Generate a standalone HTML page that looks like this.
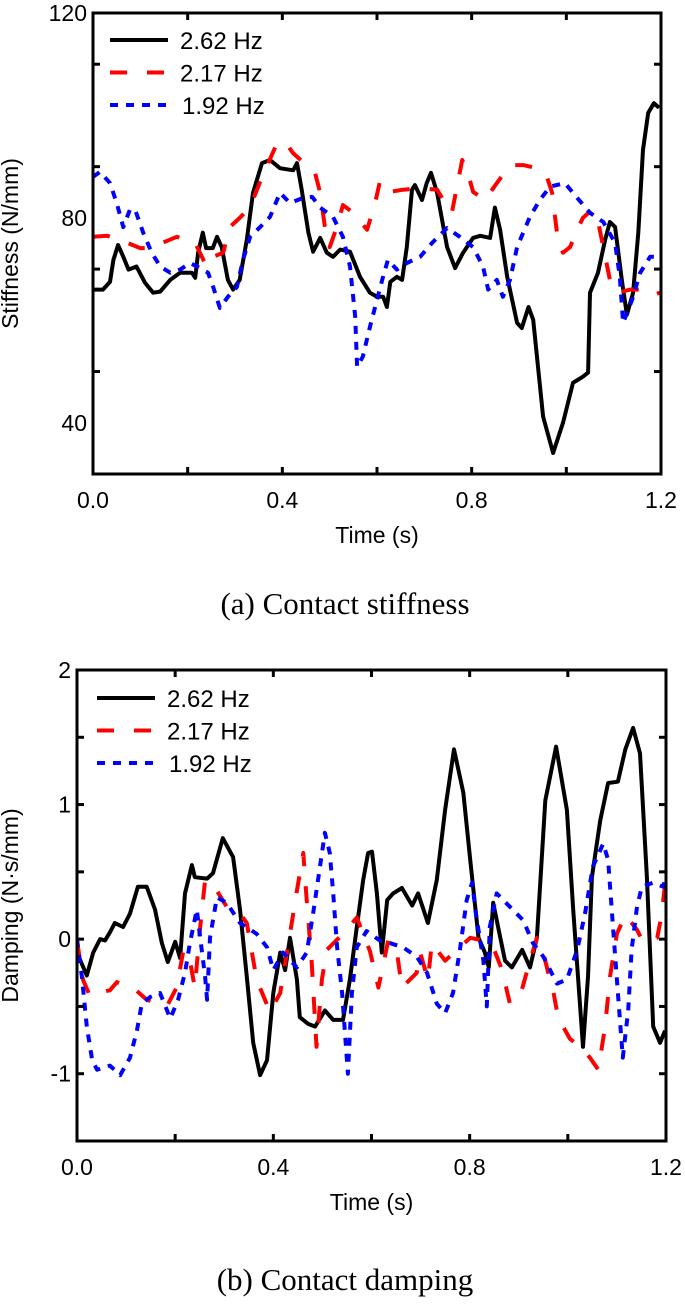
<!DOCTYPE html>
<html><head><meta charset="utf-8"><style>
body{margin:0;background:#fff;}
svg{display:block;}
text{font-family:"Liberation Sans",Arial,sans-serif;fill:#000;}
.cap{font-family:"Liberation Serif","Times New Roman",serif;}
</style></head><body>
<svg id="fig" width="685" height="1308" viewBox="0 0 685 1308">
<g id="chartA"></g>
<g id="chartB"></g>
</svg>
<script>
// ---- Chart (a) data ----
const xTicks = [0.0, 0.4, 0.8, 1.2];
const xTickLabels = ["0.0", "0.4", "0.8", "1.2"];
const seriesNames = ["2.62 Hz", "2.17 Hz", "1.92 Hz"];
const stiffYTicks = [40, 80, 120];
const stiffYTickLabels = ["40", "80", "120"];
const stiff262T = [0,.021,.036,.043,.053,.064,.075,.092,.11,.127,.142,.163,.184,.209,.216,.222,.232,.239,.253,.262,.272,.285,.296,.31,.325,.338,.357,.374,.395,.423,.431,.441,.455,.465,.48,.494,.507,.522,.543,.564,.585,.6,.613,.621,.628,.642,.653,.663,.674,.68,.695,.705,.714,.727,.748,.765,.782,.803,.818,.839,.849,.86,.875,.896,.906,.92,.93,.951,.972,.993,1.014,1.035,1.046,1.05,1.067,1.082,1.092,1.103,1.118,1.128,1.141,1.152,1.162,1.173,1.185,1.196];
const stiff262V = [66,66,67.5,71.8,74.7,72.4,69.9,70.5,67.3,65.4,65.6,67.9,69.3,69.3,68.3,73.2,77.1,74.1,74.1,76.3,74.3,67.9,66,67.9,75.7,84.9,90.7,91.3,89.7,89.3,90.7,85.5,77.1,73.4,76.1,73.2,72.4,73.8,73.4,68.5,65.4,64.6,64.6,62.6,67.5,68.5,67.9,74.3,85.5,86.4,83.5,86.8,88.8,84.9,74.3,70.2,73.2,76.1,76.5,76.1,82,77.7,68.5,59.5,58.5,62.6,60.1,41.2,34.1,40,47.8,49,49.8,65.4,69.3,75.7,79.2,78.2,67.3,61.1,65.4,77.1,93.3,100.5,102.4,101.5];
const stiff217T = [0,.03,.057,.1,.12,.177,.216,.24,.254,.275,.289,.31,.332,.357,.389,.406,.423,.469,.48,.49,.5,.515,.528,.547,.579,.596,.606,.617,.628,.655,.691,.727,.74,.758,.769,.78,.79,.803,.828,.853,.881,.909,.938,.959,.97,.976,.983,.993,1.008,1.023,1.035,1.054,1.065,1.078,1.092,1.109,1.135,1.171,1.187,1.2];
const stiff217V = [76.3,76.5,75.7,74.1,74.1,76.3,75.1,70.5,72.4,73.2,78.2,80,82.1,88,94.6,94.8,92.6,88.8,84.9,78.2,74.3,78.2,82.5,81.2,77.7,82.9,87,87,85.1,85.5,85.8,85.5,83.5,81,86.1,91.3,89.4,85.1,83.5,86.8,90.3,90.3,89.7,88,84.9,80.2,75.1,73.2,74.3,77.7,80,81.6,80.2,74.3,67.9,65.4,66,66,65,65.5];
const stiff192T = [0,.015,.036,.05,.064,.078,.089,.106,.124,.142,.163,.184,.205,.226,.243,.254,.268,.285,.304,.317,.332,.353,.374,.395,.416,.444,.463,.48,.507,.528,.543,.554,.558,.57,.585,.6,.611,.623,.642,.663,.691,.718,.748,.775,.803,.824,.835,.853,.866,.881,.896,.923,.944,.966,.997,1.023,1.05,1.078,1.103,1.113,1.12,1.139,1.156,1.177,1.2];
const stiff192V = [88,89,86.8,82.9,78.2,81.6,81.6,77.1,73.2,70.5,69.3,69.9,71.2,70.2,69.3,66.5,62.4,64.6,66.5,71.8,76.3,78.2,80.2,84.9,82.9,83.9,84.1,82,80.2,76.3,70.5,60.7,50.9,52.9,58.7,64,67.9,71.8,69.9,71.2,72.4,75.3,78,76.3,74.3,70.5,66,67.9,64.6,67.9,74.3,80.2,83.5,86.1,86.8,83.9,81,79.2,75.1,68.5,59.5,64,69.3,72.4,72.4];

// ---- Chart (b) data ----
const dampYTicks = [-1, 0, 1, 2];
const dampYTickLabels = ["-1", "0", "1", "2"];
const damp262T = [0,.02,.033,.047,.057,.067,.077,.094,.108,.124,.142,.159,.173,.185,.2,.21,.22,.234,.24,.265,.277,.297,.318,.332,.346,.359,.373,.387,.4,.414,.424,.434,.448,.454,.471,.485,.505,.522,.542,.556,.57,.583,.593,.601,.611,.621,.632,.644,.662,.683,.695,.715,.733,.75,.768,.787,.801,.818,.831,.839,.848,.858,.872,.886,.907,.923,.937,.954,.976,.998,1.011,1.031,1.041,1.049,1.066,1.082,1.102,1.117,1.133,1.147,1.161,1.174,1.188,1.198];
const damp262V = [-.1,-.27,-.1,0,-.01,.05,.12,.09,.19,.39,.39,.22,-.03,-.17,-.02,-.14,.34,.55,.46,.45,.49,.75,.61,.22,-.28,-.77,-1.01,-.9,-.4,-.1,-.23,.01,-.3,-.58,-.63,-.65,-.53,-.6,-.6,-.3,.09,.44,.64,.65,.34,-.1,.29,.34,.38,.25,.34,.12,.44,.96,1.41,1.09,.59,.01,-.1,-.21,.27,.09,-.16,-.21,-.08,-.21,.01,1.03,1.43,.96,.22,-.8,-.28,.46,.88,1.16,1.17,1.41,1.57,1.38,.46,-.65,-.77,-.68];
const damp217T = [0,.012,.026,.04,.067,.081,.114,.142,.183,.203,.217,.23,.24,.251,.261,.285,.305,.332,.346,.366,.393,.414,.434,.448,.461,.468,.478,.488,.499,.509,.542,.57,.597,.614,.634,.652,.662,.692,.699,.715,.723,.75,.801,.828,.848,.866,.882,.906,.923,.937,.95,.96,.97,.98,1.004,1.025,1.045,1.062,1.076,1.086,1.1,1.117,1.141,1.153,1.182,1.19,1.2];
const damp217V = [-.01,-.3,-.42,-.4,-.38,-.32,-.36,-.45,-.5,-.36,-.08,-.16,-.36,.09,.44,.36,.24,.19,.12,-.3,-.54,-.4,.04,.36,.64,.29,-.16,-.8,-.3,-.08,.04,.16,-.09,-.36,-.01,-.1,-.36,-.25,-.1,-.3,-.03,-.16,.01,-.01,-.06,-.23,-.48,-.38,-.16,.01,-.1,-.25,-.38,-.58,-.74,-.8,-.88,-.97,-.65,-.28,.04,.18,.07,-.02,.01,.16,.46];
const damp192T = [0,.01,.02,.031,.041,.067,.088,.108,.122,.132,.149,.169,.19,.206,.22,.23,.244,.251,.261,.265,.271,.285,.305,.332,.366,.387,.4,.42,.448,.468,.481,.495,.505,.515,.522,.53,.54,.552,.56,.57,.59,.617,.638,.664,.692,.713,.733,.75,.766,.78,.794,.805,.814,.828,.835,.841,.855,.882,.909,.929,.95,.978,.998,1.019,1.035,1.051,1.072,1.082,1.092,1.102,1.112,1.123,1.13,1.141,1.151,1.174,1.194,1.2];
const damp192V = [0,-.28,-.65,-.9,-.97,-.94,-1.01,-.88,-.68,-.48,-.43,-.4,-.59,-.45,-.25,-.03,.22,.01,-.28,-.45,.01,.31,.27,.12,.04,-.06,-.23,-.1,-.21,-.1,.19,.54,.79,.64,.34,-.06,-.4,-1.0,-.4,-.06,.06,-.01,-.03,-.06,-.13,-.25,-.48,-.55,-.4,-.08,.29,.42,.16,-.16,-.5,.09,.34,.24,.14,-.03,-.13,-.33,-.3,-.08,.19,.54,.71,.59,.09,-.4,-.88,-.53,-.08,.24,.39,.42,.39,.46];

const NS = "http://www.w3.org/2000/svg";
function mk(parent, tag, attrs){
  const e = document.createElementNS(NS, tag);
  for (const k in attrs) e.setAttribute(k, attrs[k]);
  parent.appendChild(e);
  return e;
}
const styles = [
  {stroke:"#000", dash:"", w:4},
  {stroke:"#ff0000", dash:"17 20", w:4},
  {stroke:"#0000ff", dash:"8 8", w:4}
];

function drawChart(g, cfg){
  const sx = t => cfg.x0 + (t - 0) / 1.2 * (cfg.x1 - cfg.x0);
  const sy = v => cfg.y1 - (v - cfg.ymin) / (cfg.ymax - cfg.ymin) * (cfg.y1 - cfg.y0);
  const cid = cfg.id + "-clip";
  const defs = mk(g, "defs", {});
  const cp = mk(defs, "clipPath", {id: cid});
  mk(cp, "rect", {x: cfg.x0, y: cfg.y0, width: cfg.x1 - cfg.x0, height: cfg.y1 - cfg.y0});
  const sg = mk(g, "g", {"clip-path": "url(#" + cid + ")"});
  cfg.series.forEach((s, i) => {
    const pts = s.t.map((t, j) => sx(t).toFixed(1) + "," + sy(s.v[j]).toFixed(1)).join(" ");
    const pl = mk(sg, "polyline", {points: pts, fill: "none", stroke: styles[i].stroke, "stroke-width": styles[i].w, "stroke-linejoin": "round", "stroke-dasharray": styles[i].dash});
    
    
  });
  const fr = mk(g, "rect", {x: cfg.x0, y: cfg.y0, width: cfg.x1 - cfg.x0, height: cfg.y1 - cfg.y0, fill: "none", stroke: "#000", "stroke-width": 3});
  
  
  for (let t = 0; t <= 1.2001; t += 0.2) {
    const X = sx(t);
    mk(g, "line", {x1: X, y1: cfg.y1, x2: X, y2: cfg.y1 - 7, stroke: "#000", "stroke-width": 3});
    mk(g, "line", {x1: X, y1: cfg.y0, x2: X, y2: cfg.y0 + 7, stroke: "#000", "stroke-width": 3});
  }
  xTicks.forEach((t, i) => {
    const tx = mk(g, "text", {x: sx(t), y: cfg.y1 + 34, "text-anchor": "middle", "font-size": 23});
    tx.textContent = xTickLabels[i];
    
    
  });
  for (let v = cfg.ymin; v <= cfg.ymax + 1e-9; v += cfg.minorStep) {
    const Y = sy(v);
    mk(g, "line", {x1: cfg.x0, y1: Y, x2: cfg.x0 + 7, y2: Y, stroke: "#000", "stroke-width": 3});
    mk(g, "line", {x1: cfg.x1, y1: Y, x2: cfg.x1 - 7, y2: Y, stroke: "#000", "stroke-width": 3});
  }
  cfg.yTicks.forEach((v, i) => {
    const ty = mk(g, "text", {x: cfg.x0 - 6, y: sy(v) + 8, "text-anchor": "end", "font-size": 23});
    ty.textContent = cfg.yLabels[i];
    
    
  });
  const xt = mk(g, "text", {x: (cfg.x0 + cfg.x1) / 2, y: cfg.y1 + 69, "text-anchor": "middle", "font-size": 23});
  xt.textContent = "Time (s)";
  
  
  const yt = mk(g, "text", {x: 0, y: 0, "text-anchor": "middle", "font-size": 23, transform: "translate(" + cfg.yTitleX + "," + ((cfg.y0 + cfg.y1) / 2) + ") rotate(-90)"});
  yt.textContent = cfg.yTitle;
  
  
  seriesNames.forEach((n, i) => {
    const ly = cfg.legY + i * 32.5;
    const ll = mk(g, "line", {x1: cfg.legX, y1: ly, x2: cfg.legX + 58, y2: ly, stroke: styles[i].stroke, "stroke-width": styles[i].w, "stroke-dasharray": styles[i].dash});
    
    
    const lt = mk(g, "text", {x: cfg.legX + 70 + (i === 2 ? 2 : 0), y: ly + 9, "font-size": 24});
    lt.textContent = n;
    
    
  });
  const c = mk(g, "text", {x: 345, y: cfg.capY, "text-anchor": "middle", "font-size": 31, class: "cap"});
  c.textContent = cfg.caption;
  
  
}

drawChart(document.getElementById("chartA"), {
  id: "a", x0: 93, x1: 661, y0: 13, y1: 474, ymin: 30, ymax: 120, minorStep: 20,
  yTicks: stiffYTicks, yLabels: stiffYTickLabels, yTitle: "Stiffness (N/mm)", yTitleX: 18,
  legX: 110, legY: 40, caption: "(a) Contact stiffness", capY: 614,
  series: [{t: stiff262T, v: stiff262V}, {t: stiff217T, v: stiff217V}, {t: stiff192T, v: stiff192V}]
});
drawChart(document.getElementById("chartB"), {
  id: "b", x0: 77, x1: 666, y0: 670, y1: 1141, ymin: -1.5, ymax: 2, minorStep: 0.5,
  yTicks: dampYTicks, yLabels: dampYTickLabels, yTitle: "Damping (N·s/mm)", yTitleX: 18,
  legX: 97, legY: 698, caption: "(b) Contact damping", capY: 1290,
  series: [{t: damp262T, v: damp262V}, {t: damp217T, v: damp217V}, {t: damp192T, v: damp192V}]
});
</script>
</body></html>
